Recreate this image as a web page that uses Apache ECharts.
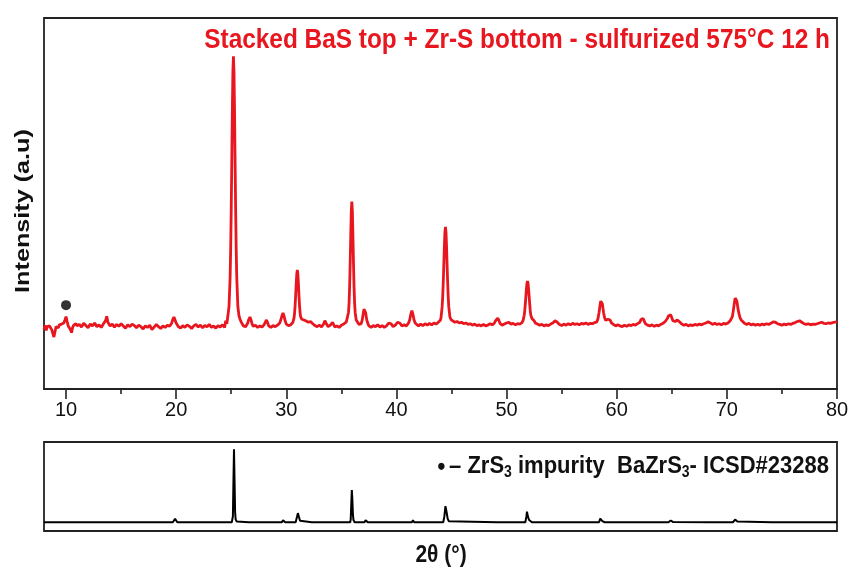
<!DOCTYPE html>
<html><head><meta charset="utf-8">
<script src="https://cdn.jsdelivr.net/npm/echarts@6/dist/echarts.min.js"></script>
<style>html,body{margin:0;padding:0;background:#fff}#c{width:854px;height:573px}</style>
</head><body><div id="c"></div>
<script>
// ---- data ----
const titleText = 'Stacked BaS top + Zr-S bottom - sulfurized 575°C 12 h';
const yAxisTitle = 'Intensity (a.u)';
const xAxisTitle = '2θ (°)';
const majorTicks = [10, 20, 30, 40, 50, 60, 70, 80];
const minorTicks = [15, 25, 35, 45, 55, 65, 75];
const impurityMarks = [[10.0, 226]];
// measured pattern: [2theta, intensity a.u.]
const measured = [
[8.0,160],[8.1,172],[8.2,158],[8.3,168],[8.4,163],[8.5,170],[8.6,166],[8.7,160],[8.8,150],[8.9,140],
[9.0,155],[9.1,168],[9.2,171],[9.3,165],[9.4,173],[9.5,169],[9.6,175],[9.7,170],[9.8,178],[9.9,186],
[10.0,195],[10.1,182],[10.2,170],[10.3,165],[10.4,160],[10.5,152],[10.6,166],[10.7,172],[10.8,168],[10.9,176],
[11.0,170],[11.2,174],[11.4,167],[11.6,177],[11.8,171],[12.0,165],[12.2,175],[12.4,170],[12.6,178],[12.8,168],
[13.0,173],[13.2,166],[13.4,176],[13.6,185],[13.7,196],[13.8,180],[14.0,170],[14.2,175],[14.4,167],[14.6,174],
[14.8,169],[15.0,176],[15.2,170],[15.4,164],[15.6,173],[15.8,168],[16.0,175],[16.2,171],[16.4,165],[16.6,172],
[16.8,168],[17.0,162],[17.2,170],[17.4,166],[17.6,172],[17.8,160],[18.0,167],[18.2,174],[18.4,168],[18.6,163],
[18.8,170],[19.0,166],[19.2,172],[19.4,169],[19.6,178],[19.7,188],[19.8,194],[19.9,189],[20.0,178],[20.2,168],
[20.4,164],[20.6,171],[20.8,166],[21.0,173],[21.2,169],[21.4,163],[21.6,170],[21.8,174],[22.0,167],[22.2,172],
[22.4,165],[22.6,171],[22.8,168],[23.0,174],[23.2,166],[23.4,170],[23.6,164],[23.8,171],[24.0,167],[24.2,173],
[24.4,166],[24.5,184],[24.6,176],[24.7,198],[24.8,223],[24.9,302],[24.95,378],[25.0,484],[25.05,613],[25.1,747],
[25.15,855],[25.2,897],[25.25,855],[25.3,747],[25.35,613],[25.4,484],[25.45,378],[25.5,302],[25.6,223],[25.7,198],
[25.8,188],[25.9,181],[26.0,176],[26.1,170],[26.2,174],[26.3,168],[26.4,173],[26.5,178],[26.6,188],[26.7,194],
[26.8,186],[26.9,175],[27.0,169],[27.2,172],[27.4,166],[27.6,170],[27.8,167],[28.0,174],[28.1,180],[28.2,186],
[28.3,179],[28.4,170],[28.6,166],[28.8,171],[29.0,168],[29.2,172],[29.4,178],[29.5,186],[29.6,197],[29.7,205],
[29.8,196],[29.9,183],[30.0,175],[30.2,171],[30.4,173],[30.6,180],[30.7,191],[30.75,204],[30.8,225],[30.85,252],
[30.9,284],[30.95,310],[31.0,321],[31.05,310],[31.1,284],[31.15,252],[31.2,225],[31.25,206],[31.3,195],[31.4,188],
[31.5,190],[31.6,186],[31.7,189],[31.8,183],[31.9,185],[32.0,180],[32.2,182],[32.4,176],[32.6,171],[32.8,168],
[33.0,172],[33.2,167],[33.4,176],[33.5,184],[33.6,178],[33.8,168],[34.0,172],[34.2,180],[34.3,176],[34.4,167],
[34.6,170],[34.8,166],[35.0,172],[35.25,176],[35.45,181],[35.55,186],[35.65,207],[35.7,232],[35.75,276],[35.8,339],
[35.85,412],[35.9,478],[35.95,505],[36.0,478],[36.05,412],[36.1,339],[36.15,276],[36.2,232],[36.25,207],[36.35,186],
[36.45,181],[36.6,174],[36.7,170],[36.8,176],[36.9,187],[37.0,206],[37.05,215],[37.1,219],[37.15,215],[37.2,206],
[37.3,187],[37.4,177],[37.5,170],[37.7,166],[37.9,171],[38.1,168],[38.3,173],[38.5,167],[38.7,171],[38.9,166],
[39.1,170],[39.3,178],[39.4,183],[39.5,176],[39.7,168],[39.9,172],[40.1,180],[40.2,185],[40.3,178],[40.5,170],
[40.7,173],[40.9,170],[41.1,178],[41.2,186],[41.3,201],[41.4,211],[41.5,201],[41.6,186],[41.7,178],[41.8,174],
[42.0,170],[42.2,175],[42.4,171],[42.6,176],[42.8,172],[43.0,177],[43.2,173],[43.4,178],[43.6,175],[43.8,180],
[43.9,182],[44.0,186],[44.05,193],[44.15,222],[44.2,249],[44.25,287],[44.3,334],[44.35,383],[44.4,422],[44.45,437],
[44.5,422],[44.55,383],[44.6,334],[44.65,287],[44.7,249],[44.75,222],[44.85,195],[44.95,187],[45.1,183],[45.3,180],
[45.5,182],[45.7,178],[45.9,180],[46.1,176],[46.3,178],[46.5,174],[46.7,176],[46.9,172],[47.1,175],[47.3,171],
[47.5,173],[47.7,170],[47.9,174],[48.1,170],[48.3,172],[48.5,176],[48.7,173],[48.9,178],[49.0,184],[49.1,189],
[49.2,191],[49.3,185],[49.4,177],[49.6,172],[49.8,175],[50.0,178],[50.1,183],[50.2,180],[50.4,175],[50.6,177],
[50.8,173],[51.0,176],[51.2,175],[51.4,179],[51.5,185],[51.6,199],[51.65,211],[51.7,229],[51.75,249],[51.8,269],
[51.85,285],[51.9,291],[51.95,285],[52.0,269],[52.05,249],[52.1,229],[52.15,211],[52.2,199],[52.3,190],[52.4,188],
[52.5,184],[52.6,178],[52.8,175],[53.0,172],[53.2,174],[53.4,170],[53.6,173],[53.8,171],[54.0,175],[54.2,178],
[54.4,184],[54.5,186],[54.6,180],[54.8,174],[55.0,171],[55.2,175],[55.4,172],[55.6,176],[55.8,173],[56.0,177],
[56.2,174],[56.4,176],[56.6,173],[56.8,177],[57.0,175],[57.2,178],[57.4,174],[57.6,177],[57.8,176],[58.0,179],
[58.2,181],[58.3,190],[58.4,207],[58.45,218],[58.5,229],[58.55,237],[58.6,240],[58.65,237],[58.7,229],[58.75,218],
[58.8,207],[58.9,192],[59.0,185],[59.1,184],[59.2,188],[59.3,191],[59.4,186],[59.5,179],[59.7,174],[59.9,170],
[60.1,173],[60.3,170],[60.5,168],[60.7,172],[60.9,169],[61.1,173],[61.3,171],[61.5,174],[61.7,172],[61.9,176],
[62.1,180],[62.2,187],[62.3,191],[62.4,190],[62.5,183],[62.6,176],[62.8,172],[63.0,170],[63.2,173],[63.4,169],
[63.6,172],[63.8,170],[64.0,174],[64.2,177],[64.4,182],[64.6,190],[64.7,197],[64.8,202],[64.9,200],[65.0,192],
[65.1,184],[65.3,182],[65.5,186],[65.6,187],[65.7,181],[65.9,175],[66.1,172],[66.3,174],[66.5,170],[66.7,173],
[66.9,171],[67.1,174],[67.3,172],[67.5,175],[67.7,173],[67.9,176],[68.1,178],[68.3,181],[68.5,178],[68.7,174],
[68.9,177],[69.1,174],[69.3,176],[69.5,173],[69.7,177],[69.9,175],[70.1,178],[70.3,184],[70.5,195],[70.6,214],
[70.65,225],[70.7,236],[70.75,245],[70.8,248],[70.85,245],[70.9,238],[70.95,229],[71.0,218],[71.1,203],[71.2,192],
[71.3,186],[71.4,182],[71.6,177],[71.8,174],[72.0,177],[72.2,173],[72.4,175],[72.6,172],[72.8,174],[73.0,172],
[73.2,175],[73.4,173],[73.6,176],[73.8,174],[74.0,177],[74.2,181],[74.3,183],[74.4,180],[74.6,176],[74.8,174],
[75.0,172],[75.2,175],[75.4,173],[75.6,176],[75.8,174],[76.0,177],[76.2,179],[76.4,182],[76.6,184],[76.8,180],
[77.0,176],[77.2,174],[77.4,176],[77.6,173],[77.8,175],[78.0,174],[78.2,176],[78.4,178],[78.6,180],[78.8,177],
[79.0,176],[79.2,178],[79.4,177],[79.6,179],[79.8,180],[80.0,182]
];
// reference pattern BaZrS3 ICSD#23288: [2theta, relative intensity]
const reference = [
[8,0],[19.7,0],[19.8,2.5],[19.9,4.7],[20.0,2],[20.1,0],
[25.05,0],[25.1,1],[25.15,8],[25.2,55],[25.25,100],[25.3,58],[25.35,14],[25.4,4],[25.5,1],[25.6,0],
[26.6,0],[26.7,1.8],[26.8,0],[28.2,0],[28.3,0.8],[28.4,0],
[29.6,0],[29.7,2.8],[29.8,0.5],[29.9,0],
[30.85,0],[30.95,6],[31.05,12.5],[31.15,7],[31.25,2],[31.35,0],
[32.3,0],[32.4,0.8],[32.5,0],[33.5,0],[33.6,0.8],[33.7,0],
[35.8,0],[35.85,4],[35.9,25],[35.95,44],[36.0,30],[36.05,10],[36.1,3],[36.2,0],
[37.1,0],[37.2,2.8],[37.3,0.5],[37.4,0],[38.7,0],[38.8,0.6],[38.9,0],
[40.05,0],[40.15,0.6],[40.25,0],[41.4,0],[41.5,2.8],[41.6,0],
[44.25,0],[44.35,8],[44.45,22],[44.5,20],[44.55,14],[44.65,5],[44.75,1.5],[44.9,0],
[49.1,0],[49.2,0.8],[49.3,0],
[51.7,0],[51.8,8],[51.85,14.5],[51.9,12],[51.95,7],[52.05,3],[52.15,1],[52.3,0],
[54.4,0],[54.5,0.6],[54.6,0],
[58.4,0],[58.5,5],[58.6,3.5],[58.7,1.5],[58.8,0.5],[58.9,0],[59.2,0],[59.3,0.8],[59.4,0],
[62.3,0],[62.4,1.4],[62.5,0],
[64.7,0],[64.8,1.8],[64.9,2.4],[65.0,1.2],[65.1,0.5],[65.2,0],
[68.3,0],[68.4,0.6],[68.5,0],
[70.55,0],[70.65,2],[70.75,3.7],[70.85,2.5],[70.95,1],[71.1,0],
[74.1,0],[74.2,0.8],[74.3,0],[76.5,0],[76.6,0.6],[76.7,0],[78.4,0],[78.5,0.5],[78.6,0],[80,0]
];

const RED = '#e8161e';
const FONT = 'Liberation Sans, Arial, sans-serif';
const chart = echarts.init(document.getElementById('c'), null, {renderer: 'canvas'});
chart.setOption({
  animation: false,
  backgroundColor: '#fff',
  grid: [
    {left: 44, right: 17, top: 18, height: 371, show: true, borderColor: '#222', borderWidth: 1.8, backgroundColor: 'transparent'},
    {left: 44, right: 17, top: 442, height: 89, show: true, borderColor: '#222', borderWidth: 1.8, backgroundColor: 'transparent'}
  ],
  xAxis: [
    {gridIndex: 0, type: 'value', position: 'bottom', min: 8, max: 80,
     axisLine: {show: true, onZero: false, lineStyle: {color: '#222', width: 1.8}},
     axisTick: {show: true, inside: false, length: 10, lineStyle: {color: '#222', width: 1.6}, customValues: majorTicks},
     axisLabel: {show: true, margin: 11, fontSize: 20, color: '#111', fontFamily: FONT, customValues: majorTicks},
     splitLine: {show: false}},
    // minor ticks: hung from the top edge of the lower panel, shifted up onto the upper panel's axis line
    {gridIndex: 1, type: 'value', position: 'top', offset: 53, min: 8, max: 80,
     axisLine: {show: false, onZero: false},
     axisTick: {show: true, inside: true, length: 5, lineStyle: {color: '#222', width: 1.6}, customValues: minorTicks},
     axisLabel: {show: false}, splitLine: {show: false}},
    {gridIndex: 1, type: 'value', position: 'bottom', min: 8, max: 80,
     axisLine: {show: false, onZero: false}, axisTick: {show: false}, axisLabel: {show: false}, splitLine: {show: false}}
  ],
  yAxis: [
    {gridIndex: 0, type: 'value', min: 0, max: 1000, show: false, splitLine: {show: false}},
    {gridIndex: 1, type: 'value', min: -12, max: 110, show: false, splitLine: {show: false}}
  ],
  series: [
    {type: 'line', xAxisIndex: 0, yAxisIndex: 0, data: measured, showSymbol: false, symbol: 'none',
     lineStyle: {color: RED, width: 2.8}, clip: true, z: 3},
    {type: 'scatter', xAxisIndex: 0, yAxisIndex: 0, data: impurityMarks, symbol: 'circle', symbolSize: 10,
     itemStyle: {color: '#000'}, z: 4},
    {type: 'line', xAxisIndex: 2, yAxisIndex: 1, data: reference, showSymbol: false, symbol: 'none',
     lineStyle: {color: '#000', width: 2}, clip: true, z: 3}
  ],
  graphic: [
    {type: 'text', x: 830, y: 40, scaleY: 1.12, z: 10,
     style: {text: titleText, fill: RED, font: 'bold 24.4px ' + FONT, textAlign: 'right', textVerticalAlign: 'middle'}},
    {type: 'text', x: 23, y: 211, rotation: Math.PI / 2, scaleX: 1.2, z: 10,
     style: {text: yAxisTitle, fill: '#111', font: 'bold 21px ' + FONT, textAlign: 'center', textVerticalAlign: 'middle'}},
    {type: 'text', x: 441, y: 556, scaleY: 1.12, z: 10,
     style: {text: xAxisTitle, fill: '#111', font: 'bold 21px ' + FONT, textAlign: 'center', textVerticalAlign: 'middle'}},
    {type: 'text', x: 829, y: 466, scaleY: 1.12, z: 10,
     style: {
       text: '{d|●} {n|– ZrS}{s|3}{n| impurity  BaZrS}{s|3}{n|- ICSD#23288}',
       textAlign: 'right', textVerticalAlign: 'middle',
       rich: {
         d: {fontSize: 15, fontFamily: FONT, fill: '#111', fontWeight: 'bold'},
         n: {fontSize: 22, fontFamily: FONT, fill: '#111', fontWeight: 'bold'},
         s: {fontSize: 14, fontFamily: FONT, fill: '#111', fontWeight: 'bold', padding: [12, 0, 0, 0]}
       }
     }}
  ]
});
</script></body></html>
